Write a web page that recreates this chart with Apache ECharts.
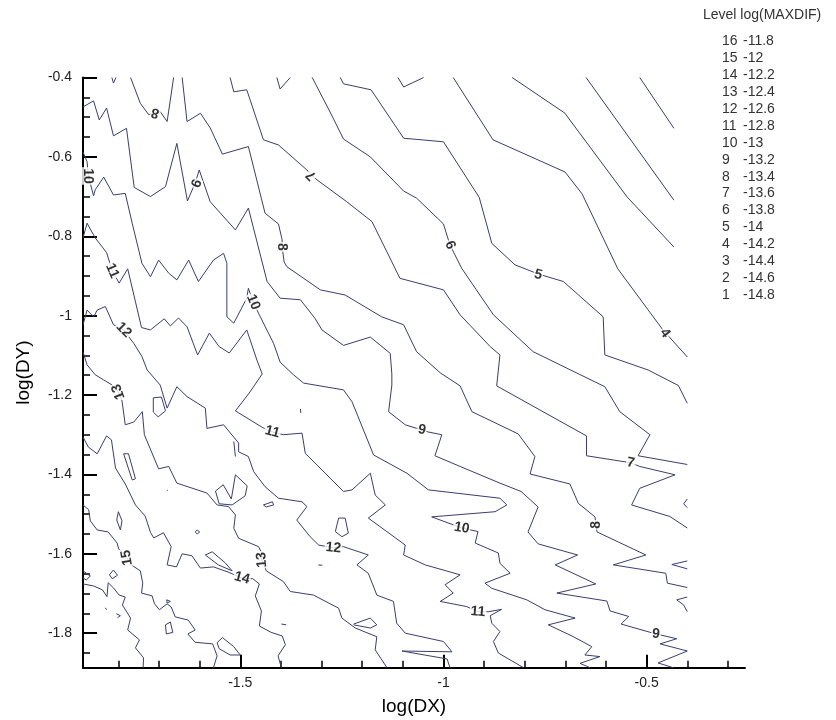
<!DOCTYPE html>
<html><head><meta charset="utf-8">
<script src="https://cdn.jsdelivr.net/npm/echarts@6/dist/echarts.min.js"></script>
<style>html,body{margin:0;padding:0;background:#fff}#c{width:836px;height:720px}</style>
</head><body><div id="c"></div>
<script>
// ---- axis ticks ----
const xMajor = [-1.5, -1, -0.5];
const xMinor = [-1.8,-1.7,-1.6,-1.4,-1.3,-1.2,-1.1,-0.9,-0.8,-0.7,-0.6,-0.4,-0.3];
const yMajor = [-0.4,-0.6,-0.8,-1,-1.2,-1.4,-1.6,-1.8];
const yMinor = [-0.45,-0.5,-0.55,-0.65,-0.7,-0.75,-0.85,-0.9,-0.95,-1.05,-1.1,-1.15,-1.25,-1.3,-1.35,-1.45,-1.5,-1.55,-1.65,-1.7,-1.75,-1.85];

// ---- legend table ----
const legendLevels = [16,15,14,13,12,11,10,9,8,7,6,5,4,3,2,1];
const legendValues = [-11.8,-12,-12.2,-12.4,-12.6,-12.8,-13,-13.2,-13.4,-13.6,-13.8,-14,-14.2,-14.4,-14.6,-14.8];

// ---- contour lines [log(DX), log(DY)] ----
const level1 = [[-0.517,-0.4],[-0.433,-0.528]];
const level2 = [[-0.649,-0.4],[-0.433,-0.709]];
const level3 = [[-0.831,-0.4],[-0.701,-0.49],[-0.689,-0.507],[-0.548,-0.701],[-0.433,-0.827]];
const level4 = [[-0.976,-0.4],[-0.878,-0.557],[-0.701,-0.638],[-0.659,-0.693],[-0.571,-0.882],[-0.46,-1.036],[-0.4,-1.104]];
const level5 = [[-1.254,-0.4],[-1.246,-0.416],[-1.178,-0.431],[-1.098,-0.553],[-1.0,-0.562],[-0.912,-0.702],[-0.881,-0.818],[-0.824,-0.872],[-0.767,-0.895],[-0.705,-0.914],[-0.607,-1.003],[-0.603,-1.099],[-0.496,-1.137],[-0.422,-1.176],[-0.4,-1.221]];
const level5b = [[-1.112,-0.4],[-1.098,-0.424],[-1.049,-0.4]];
const level6 = [[-1.323,-0.4],[-1.279,-0.487],[-1.246,-0.555],[-1.18,-0.6],[-1.098,-0.686],[-1.066,-0.704],[-1.0,-0.769],[-0.984,-0.822],[-0.955,-0.881],[-0.877,-0.998],[-0.779,-1.091],[-0.713,-1.124],[-0.603,-1.179],[-0.566,-1.242],[-0.492,-1.3],[-0.521,-1.353],[-0.4,-1.375]];
const level6b = [[-1.41,-0.4],[-1.402,-0.429],[-1.377,-0.4]];
const level7 = [[-1.525,-0.4],[-1.516,-0.436],[-1.484,-0.431],[-1.443,-0.557],[-1.406,-0.57],[-1.336,-0.633],[-1.325,-0.646],[-1.311,-0.658],[-1.238,-0.713],[-1.176,-0.763],[-1.107,-0.906],[-1.0,-0.935],[-0.959,-0.998],[-0.885,-1.078],[-0.861,-1.099],[-0.869,-1.177],[-0.648,-1.303],[-0.648,-1.353],[-0.549,-1.369],[-0.539,-1.371],[-0.517,-1.38],[-0.43,-1.401],[-0.517,-1.435],[-0.537,-1.477],[-0.443,-1.506],[-0.4,-1.535]];
const level8a = [[-1.77,-0.4],[-1.746,-0.465],[-1.725,-0.494],[-1.709,-0.489],[-1.697,-0.486],[-1.68,-0.511],[-1.664,-0.4]];
const level8 = [[-1.643,-0.4],[-1.631,-0.511],[-1.598,-0.49],[-1.574,-0.527],[-1.544,-0.593],[-1.48,-0.574],[-1.439,-0.742],[-1.406,-0.769],[-1.397,-0.809],[-1.397,-0.827],[-1.392,-0.865],[-1.385,-0.877],[-1.303,-0.935],[-1.242,-0.948],[-1.152,-1.003],[-1.098,-1.023],[-1.066,-1.091],[-1.008,-1.144],[-0.959,-1.177],[-0.93,-1.242],[-0.816,-1.298],[-0.775,-1.355],[-0.787,-1.399],[-0.689,-1.424],[-0.668,-1.473],[-0.627,-1.507],[-0.625,-1.527],[-0.622,-1.545],[-0.502,-1.603],[-0.582,-1.628],[-0.453,-1.649],[-0.449,-1.674],[-0.4,-1.685]];
const level9 = [[-1.887,-0.474],[-1.861,-0.459],[-1.847,-0.507],[-1.829,-0.477],[-1.812,-0.547],[-1.78,-0.528],[-1.761,-0.677],[-1.721,-0.7],[-1.684,-0.675],[-1.656,-0.566],[-1.63,-0.711],[-1.611,-0.666],[-1.601,-0.633],[-1.574,-0.713],[-1.512,-0.784],[-1.48,-0.729],[-1.434,-0.914],[-1.402,-0.956],[-1.352,-0.96],[-1.316,-1.007],[-1.299,-1.036],[-1.246,-1.075],[-1.18,-1.054],[-1.131,-1.095],[-1.127,-1.147],[-1.127,-1.175],[-1.135,-1.242],[-1.094,-1.275],[-1.066,-1.284],[-1.053,-1.288],[-1.038,-1.293],[-1.004,-1.3],[-1.021,-1.353],[-0.959,-1.38],[-0.861,-1.422],[-0.809,-1.443],[-0.767,-1.482],[-0.792,-1.545],[-0.767,-1.575],[-0.67,-1.603],[-0.725,-1.628],[-0.625,-1.676],[-0.721,-1.699],[-0.598,-1.719],[-0.59,-1.744],[-0.544,-1.758],[-0.563,-1.777],[-0.484,-1.8],[-0.477,-1.802],[-0.426,-1.814],[-0.467,-1.827],[-0.4,-1.845],[-0.472,-1.875],[-0.435,-1.887]];
const level9b = [[-1.816,-0.4],[-1.812,-0.414],[-1.806,-0.4]];
const level10 = [[-1.887,-0.588],[-1.877,-0.612],[-1.874,-0.648],[-1.861,-0.698],[-1.857,-0.683],[-1.836,-0.651],[-1.812,-0.696],[-1.783,-0.692],[-1.766,-0.767],[-1.742,-0.868],[-1.721,-0.902],[-1.701,-0.86],[-1.676,-0.893],[-1.656,-0.91],[-1.627,-0.86],[-1.603,-0.914],[-1.566,-0.86],[-1.541,-0.843],[-1.533,-0.868],[-1.533,-1.003],[-1.516,-1.019],[-1.484,-0.956],[-1.48,-0.931],[-1.468,-0.966],[-1.455,-0.994],[-1.418,-1.07],[-1.402,-1.117],[-1.369,-1.149],[-1.344,-1.17],[-1.246,-1.187],[-1.225,-1.217],[-1.172,-1.351],[-1.09,-1.397],[-1.037,-1.439],[-0.861,-1.46],[-0.844,-1.477],[-0.873,-1.494],[-1.029,-1.507],[-0.976,-1.527],[-0.955,-1.535],[-0.915,-1.544],[-0.922,-1.573],[-0.865,-1.598],[-0.861,-1.624],[-0.836,-1.649],[-0.898,-1.674],[-0.881,-1.687],[-0.795,-1.716],[-0.75,-1.741],[-0.676,-1.762],[-0.742,-1.779],[-0.68,-1.809],[-0.635,-1.834],[-0.652,-1.855],[-0.615,-1.859],[-0.664,-1.876],[-0.639,-1.887]];
const level11 = [[-1.887,-0.804],[-1.877,-0.767],[-1.857,-0.804],[-1.829,-0.841],[-1.815,-0.887],[-1.798,-0.918],[-1.777,-0.882],[-1.743,-1.03],[-1.721,-1.036],[-1.687,-1.008],[-1.672,-1.026],[-1.652,-1.006],[-1.631,-1.028],[-1.605,-1.099],[-1.576,-1.044],[-1.552,-1.078],[-1.527,-1.094],[-1.484,-1.036],[-1.459,-1.112],[-1.446,-1.147],[-1.478,-1.195],[-1.512,-1.24],[-1.445,-1.282],[-1.421,-1.293],[-1.394,-1.3],[-1.348,-1.296],[-1.34,-1.347],[-1.246,-1.443],[-1.225,-1.439],[-1.18,-1.397],[-1.168,-1.452],[-1.143,-1.477],[-1.185,-1.51],[-1.094,-1.578],[-1.098,-1.603],[-1.045,-1.628],[-0.959,-1.653],[-0.996,-1.678],[-0.976,-1.699],[-1.008,-1.72],[-0.943,-1.733],[-0.915,-1.746],[-0.89,-1.746],[-0.857,-1.74],[-0.885,-1.756],[-0.881,-1.775],[-0.861,-1.796],[-0.877,-1.821],[-0.865,-1.85],[-0.803,-1.887]];
const level12 = [[-1.887,-1.023],[-1.877,-0.986],[-1.861,-1.003],[-1.852,-0.986],[-1.832,-0.977],[-1.812,-1.023],[-1.787,-1.036],[-1.762,-1.07],[-1.742,-1.103],[-1.729,-1.137],[-1.697,-1.175],[-1.68,-1.233],[-1.656,-1.179],[-1.631,-1.204],[-1.586,-1.233],[-1.582,-1.284],[-1.541,-1.275],[-1.504,-1.321],[-1.504,-1.343],[-1.48,-1.355],[-1.467,-1.393],[-1.439,-1.431],[-1.406,-1.46],[-1.348,-1.469],[-1.336,-1.481],[-1.361,-1.515],[-1.328,-1.557],[-1.307,-1.578],[-1.271,-1.585],[-1.246,-1.582],[-1.185,-1.603],[-1.213,-1.628],[-1.185,-1.649],[-1.164,-1.704],[-1.123,-1.72],[-1.115,-1.775],[-1.094,-1.8],[-1.0,-1.821],[-0.979,-1.847],[-1.102,-1.845],[-0.991,-1.865],[-0.984,-1.887]];
const level13 = [[-1.887,-1.091],[-1.877,-1.124],[-1.857,-1.149],[-1.836,-1.162],[-1.815,-1.175],[-1.8,-1.192],[-1.791,-1.215],[-1.783,-1.275],[-1.762,-1.268],[-1.741,-1.242],[-1.736,-1.3],[-1.701,-1.386],[-1.676,-1.38],[-1.656,-1.422],[-1.582,-1.447],[-1.557,-1.477],[-1.529,-1.481],[-1.512,-1.502],[-1.516,-1.536],[-1.504,-1.561],[-1.455,-1.582],[-1.447,-1.598],[-1.447,-1.615],[-1.436,-1.643],[-1.394,-1.67],[-1.377,-1.695],[-1.32,-1.704],[-1.258,-1.737],[-1.25,-1.762],[-1.217,-1.787],[-1.164,-1.809],[-1.168,-1.842],[-1.139,-1.887]];
const level14 = [[-1.887,-1.306],[-1.874,-1.331],[-1.852,-1.348],[-1.829,-1.303],[-1.817,-1.313],[-1.807,-1.384],[-1.783,-1.424],[-1.758,-1.477],[-1.734,-1.505],[-1.721,-1.546],[-1.713,-1.56],[-1.689,-1.547],[-1.67,-1.582],[-1.68,-1.628],[-1.657,-1.633],[-1.643,-1.6],[-1.619,-1.605],[-1.598,-1.636],[-1.566,-1.633],[-1.53,-1.646],[-1.496,-1.661],[-1.469,-1.663],[-1.453,-1.676],[-1.463,-1.706],[-1.448,-1.744],[-1.453,-1.782],[-1.424,-1.798],[-1.397,-1.807],[-1.389,-1.829],[-1.407,-1.857],[-1.399,-1.887]];
const level15 = [[-1.887,-1.477],[-1.873,-1.489],[-1.869,-1.517],[-1.852,-1.54],[-1.825,-1.545],[-1.803,-1.573],[-1.799,-1.588],[-1.779,-1.61],[-1.768,-1.628],[-1.746,-1.643],[-1.74,-1.674],[-1.743,-1.699],[-1.717,-1.706],[-1.711,-1.726],[-1.699,-1.741],[-1.68,-1.726],[-1.67,-1.734],[-1.66,-1.759],[-1.628,-1.767],[-1.611,-1.792],[-1.629,-1.802],[-1.611,-1.823],[-1.568,-1.827],[-1.557,-1.857],[-1.566,-1.887]];
const level16 = [[-1.887,-1.676],[-1.861,-1.681],[-1.839,-1.691],[-1.828,-1.708],[-1.825,-1.673],[-1.812,-1.686],[-1.798,-1.704],[-1.783,-1.709],[-1.79,-1.729],[-1.77,-1.762],[-1.777,-1.792],[-1.748,-1.817],[-1.758,-1.837],[-1.738,-1.862],[-1.739,-1.887]];

// small closed islands and fragments
const island1 = [[-1.714,-1.207],[-1.694,-1.205],[-1.684,-1.24],[-1.702,-1.255],[-1.714,-1.243],[-1.714,-1.207]];
const island2 = [[-1.787,-1.348],[-1.775,-1.348],[-1.758,-1.411],[-1.766,-1.414],[-1.787,-1.348]];
const island3 = [[-1.8,-1.494],[-1.791,-1.517],[-1.795,-1.54],[-1.804,-1.515],[-1.8,-1.494]];
const island4 = [[-1.586,-1.603],[-1.569,-1.595],[-1.537,-1.623],[-1.52,-1.643],[-1.554,-1.628],[-1.586,-1.603]];
const island5 = [[-1.561,-1.442],[-1.542,-1.426],[-1.522,-1.462],[-1.512,-1.401],[-1.483,-1.429],[-1.488,-1.454],[-1.52,-1.477],[-1.552,-1.474],[-1.561,-1.442]];
const island6 = [[-1.557,-1.824],[-1.544,-1.811],[-1.516,-1.834],[-1.5,-1.855],[-1.525,-1.855],[-1.552,-1.839],[-1.557,-1.824]];
const island7 = [[-1.684,-1.779],[-1.672,-1.772],[-1.666,-1.798],[-1.682,-1.802],[-1.684,-1.779]];
const island8 = [[-1.681,-1.716],[-1.672,-1.72],[-1.68,-1.724],[-1.681,-1.716]];
const island9 = [[-1.822,-1.653],[-1.812,-1.641],[-1.802,-1.654],[-1.815,-1.663],[-1.822,-1.653]];
const island10 = [[-1.887,-1.643],[-1.869,-1.656],[-1.879,-1.666],[-1.887,-1.661]];
const island11 = [[-1.443,-1.477],[-1.421,-1.469],[-1.418,-1.477],[-1.436,-1.482],[-1.443,-1.477]];
const island12 = [[-1.258,-1.51],[-1.242,-1.51],[-1.234,-1.548],[-1.25,-1.557],[-1.266,-1.544],[-1.258,-1.51]];
const island13 = [[-1.221,-1.777],[-1.18,-1.762],[-1.164,-1.779],[-1.18,-1.787],[-1.221,-1.779]];
const island14 = [[-1.606,-1.54],[-1.6,-1.545],[-1.606,-1.55],[-1.611,-1.545],[-1.606,-1.54]];
const bit1 = [[-1.516,-1.317],[-1.512,-1.355]];
const bit2 = [[-1.352,-1.235],[-1.351,-1.245]];
const bit3 = [[-1.308,-1.628],[-1.298,-1.629]];
const bit4 = [[-1.68,-1.439],[-1.678,-1.441]];
const bit5 = [[-1.832,-1.736],[-1.829,-1.741]];
const bit6 = [[-1.805,-1.751],[-1.795,-1.756],[-1.802,-1.761]];
const bit7 = [[-1.399,-1.777],[-1.387,-1.779]];
const edge1 = [[-0.4,-1.462],[-0.409,-1.474],[-0.4,-1.484]];
const edge2 = [[-0.4,-1.618],[-0.438,-1.627],[-0.4,-1.638]];
const edge3 = [[-0.4,-1.709],[-0.426,-1.716],[-0.409,-1.729],[-0.4,-1.746]];

// contour labels
const contourLabelText = ['8','9','10','8','7','6','5','4','11','12','13','10','11','9','15','13','14','12','10','11','7','8','9'];
const contourLabelX = [-1.709,-1.611,-1.874,-1.397,-1.325,-0.984,-0.767,-0.455,-1.815,-1.787,-1.8,-1.468,-1.421,-1.053,-1.779,-1.447,-1.496,-1.271,-0.955,-0.915,-0.539,-0.625,-0.477];
const contourLabelY = [-0.489,-0.666,-0.648,-0.827,-0.646,-0.822,-0.897,-1.044,-0.887,-1.036,-1.192,-0.966,-1.293,-1.288,-1.61,-1.615,-1.661,-1.585,-1.535,-1.746,-1.371,-1.527,-1.802];
const labelAngle = [165,-111,-90,-90,135,-67,-15,-54,-67,-45,110,-68,-15,-10,100,95,-15,-5,-10,-5,-10,90,-5];

const allLines = [level1,level2,level3,level4,level5,level5b,level6,level6b,level7,level8a,level8,level9,level9b,level10,level11,level12,level13,level14,level15,level16,
  island1,island2,island3,island4,island5,island6,island7,island8,island9,island10,island11,island12,island13,island14,
  bit1,bit2,bit3,bit4,bit5,bit6,bit7,edge1,edge2,edge3];

const LINE = '#3a3e6c';
const FONT = "'Liberation Sans', Arial, sans-serif";
const fmt = v => String(Math.round(v * 100) / 100);

const series = allLines.map(d => ({
  type: 'line', data: d, xAxisIndex: 0, yAxisIndex: 0,
  showSymbol: false, symbol: 'none', silent: true, z: 2,
  lineStyle: { color: LINE, width: 1 }
}));
series.push({
  type: 'scatter', xAxisIndex: 0, yAxisIndex: 0, symbolSize: 0, z: 5, silent: true,
  data: contourLabelText.map((t, i) => ({
    name: t, value: [contourLabelX[i], contourLabelY[i]],
    label: { rotate: labelAngle[i] }
  })),
  label: {
    show: true, position: 'inside', formatter: '{b}',
    fontFamily: FONT, fontSize: 14, fontWeight: 'bold', color: '#000',
    backgroundColor: '#fff', padding: [0, 1]
  }
});

const legendFont = "14px 'Liberation Sans', Arial";
const graphic = [{
  type: 'text', left: 703, top: 8,
  style: { text: 'Level log(MAXDIF)', font: legendFont, fill: '#333' }
}];
legendLevels.forEach((lv, i) => {
  const y = 34.5 + i * 16.9;
  graphic.push({ type: 'text', left: 722, top: y, style: { text: String(lv), font: legendFont, fill: '#333' } });
  graphic.push({ type: 'text', left: 743, top: y, style: { text: String(legendValues[i]), font: legendFont, fill: '#333' } });
});

const chart = echarts.init(document.getElementById('c'), null, { renderer: 'canvas' });
chart.setOption({
  animation: false,
  backgroundColor: '#fff',
  grid: { left: 83, right: 91, top: 77.5, bottom: 52.3, containLabel: false, outerBoundsMode: 'none' },
  xAxis: [{
    type: 'value', min: -1.887, max: -0.258, position: 'bottom',
    name: 'log(DX)', nameLocation: 'middle', nameGap: 30,
    nameTextStyle: { fontFamily: FONT, fontSize: 19, color: '#000' },
    axisLine: { show: true, onZero: false, lineStyle: { color: '#000', width: 2 } },
    axisTick: { show: true, inside: true, length: 13, customValues: xMajor, lineStyle: { color: '#000', width: 2 } },
    axisLabel: { show: true, customValues: xMajor, formatter: fmt, margin: 8, fontFamily: FONT, fontSize: 14, color: '#222' },
    splitLine: { show: false }
  }, {
    type: 'value', min: -1.887, max: -0.258, position: 'bottom',
    axisLine: { show: false },
    axisTick: { show: true, inside: true, length: 7, customValues: xMinor, lineStyle: { color: '#000', width: 1.5 } },
    axisLabel: { show: false }, splitLine: { show: false }
  }],
  yAxis: [{
    type: 'value', min: -1.887, max: -0.4, position: 'left',
    name: 'log(DY)', nameLocation: 'middle', nameGap: 50, nameRotate: 90,
    nameTextStyle: { fontFamily: FONT, fontSize: 19, color: '#000' },
    axisLine: { show: true, onZero: false, lineStyle: { color: '#000', width: 2 } },
    axisTick: { show: true, inside: true, length: 14, customValues: yMajor, lineStyle: { color: '#000', width: 2 } },
    axisLabel: { show: true, customValues: yMajor, formatter: fmt, margin: 11, fontFamily: FONT, fontSize: 14, color: '#222' },
    splitLine: { show: false }
  }, {
    type: 'value', min: -1.887, max: -0.4, position: 'left',
    axisLine: { show: false },
    axisTick: { show: true, inside: true, length: 7, customValues: yMinor, lineStyle: { color: '#000', width: 1.5 } },
    axisLabel: { show: false }, splitLine: { show: false }
  }],
  graphic: graphic,
  series: series
});
</script>
</body></html>
